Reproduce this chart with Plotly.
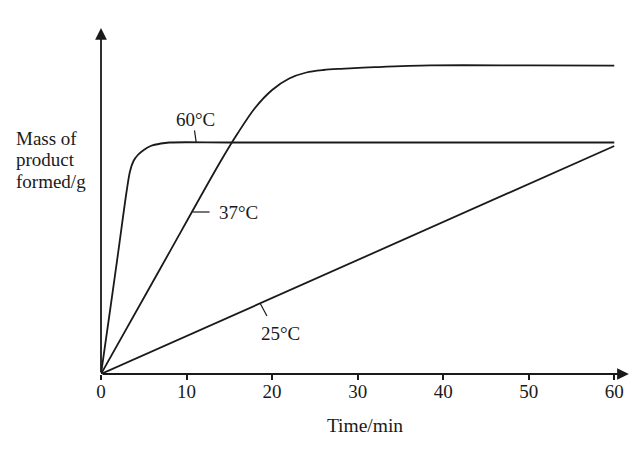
import plotly.graph_objects as go

# Tiempo en minutos y masa de producto (unidades arbitrarias, eje sin escala)
tiempo_60 = [0, 1, 2, 3, 3.4, 3.8, 4.3, 5, 5.8, 7, 8, 15, 30, 45, 60]
masa_60 = [0, 6.0, 12.1, 18.3, 20.3, 21.3, 21.9, 22.4, 22.8, 23.05, 23.15, 23.15, 23.15, 23.15, 23.15]

tiempo_37 = [0, 7, 14, 16, 18, 20, 22, 24, 26, 28, 32, 38.5, 50, 60]
masa_37 = [0, 10.65, 21.3, 24.1, 26.6, 28.4, 29.55, 30.15, 30.4, 30.52, 30.68, 30.86, 30.86, 30.84]

tiempo_25 = [0, 60]
masa_25 = [0, 22.8]

ticks_x = [0, 10, 20, 30, 40, 50, 60]

# Etiquetas de cada curva: (texto, x, y, linea guia)
etiquetas = [
    ("60°C", 11.0, 25.5, (10.93, 24.36, 11.13, 23.16)),
    ("37°C", 16.1, 16.2, (10.72, 16.2, 12.69, 16.2)),
    ("25°C", 20.95, 4.1, (18.6, 7.07, 19.4, 5.8)),
]

fuente = "Liberation Serif, Times New Roman, serif"
negro = "#1a1a1a"

fig = go.Figure()
for tx, my in [(tiempo_60, masa_60), (tiempo_37, masa_37), (tiempo_25, masa_25)]:
    fig.add_trace(go.Scatter(x=tx, y=my, mode="lines",
                             line=dict(color=negro, width=1.8, shape="spline", smoothing=0.9),
                             hoverinfo="skip", showlegend=False))

for texto, x, y, guia in etiquetas:
    fig.add_annotation(x=x, y=y, text=texto, showarrow=False,
                       font=dict(family=fuente, size=19, color=negro))
    fig.add_shape(type="line", x0=guia[0], y0=guia[1], x1=guia[2], y1=guia[3],
                  line=dict(color=negro, width=1.2))

# Ejes con flecha
fig.add_annotation(x=61.7, y=0, ax=0, ay=0, xref="x", yref="y", axref="x", ayref="y",
                   showarrow=True, arrowhead=2, arrowsize=1.3, arrowwidth=1.8,
                   arrowcolor=negro, text="", standoff=0)
fig.add_annotation(x=0, y=34.6, ax=0, ay=0, xref="x", yref="y", axref="x", ayref="y",
                   showarrow=True, arrowhead=2, arrowsize=1.3, arrowwidth=1.8,
                   arrowcolor=negro, text="", standoff=0)

# Titulo del eje y en tres renglones
for i, renglon in enumerate(["Mass of", "product", "formed/g"]):
    fig.add_annotation(xref="paper", yref="y", x=0, y=23.6 - i * 2.17, xshift=-87.4,
                       xanchor="left", yanchor="middle", text=renglon, showarrow=False,
                       font=dict(family=fuente, size=19, color=negro))

fig.update_layout(
    width=621, height=445,
    margin=dict(l=92.7, r=0, t=16.3, b=78.7, autoexpand=False),
    paper_bgcolor="white", plot_bgcolor="white",
    font=dict(family=fuente, size=19, color=negro),
    xaxis=dict(range=[0, 61.72], tickvals=ticks_x, ticks="outside", ticklen=5,
               tickwidth=1.5, tickcolor=negro, showgrid=False, zeroline=False,
               showline=False, ticklabelstandoff=-5,
               title=dict(text="Time/min", standoff=17,
                          font=dict(family=fuente, size=19.5, color=negro)),
               tickfont=dict(family=fuente, size=19)),
    yaxis=dict(range=[0, 35], showticklabels=False, showgrid=False, zeroline=False,
               showline=False, ticks=""),
)

fig.write_html("out.html")
